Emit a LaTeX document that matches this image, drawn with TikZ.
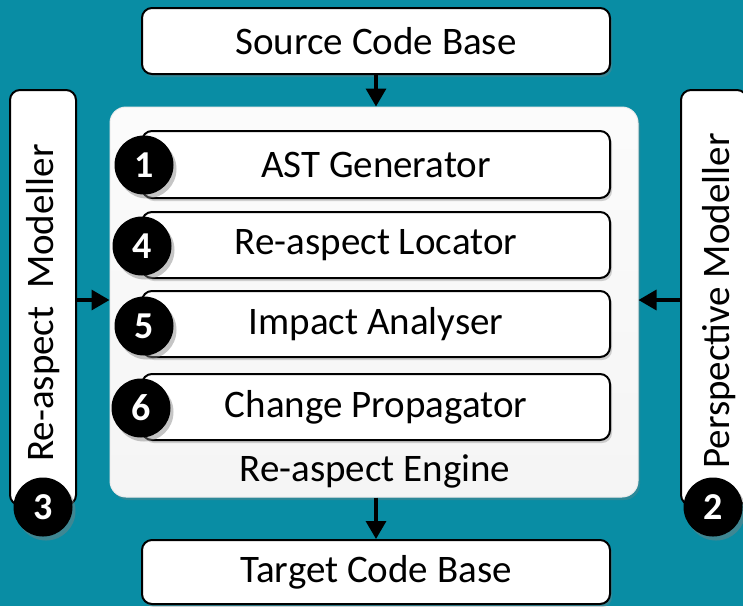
\documentclass[tikz,border=0pt]{standalone}
\usepackage{fontspec}
\setmainfont{Carlito}
\usetikzlibrary{arrows.meta,shadows}
\definecolor{teal}{RGB}{9,141,164}
\tikzset{
  box/.style={draw=black, line width=2pt, fill=white, rounded corners=10pt,
    minimum width=468pt, inner sep=0pt, font=\fontsize{39}{46}\selectfont,
    drop shadow={shadow xshift=2pt, shadow yshift=-3pt, opacity=0.35}},
  sidebox/.style={draw=black, line width=2pt, fill=white, rounded corners=10pt,
    minimum width=66pt, minimum height=415pt, inner sep=0pt},
  sidetext/.style={rotate=90, font=\fontsize{39}{46}\selectfont, inner sep=0pt},
  badge/.style={circle, fill=black, minimum size=59pt, inner sep=0pt,
    text=white, font=\fontsize{38}{42}\selectfont\bfseries,
    drop shadow={shadow xshift=3pt, shadow yshift=-4pt, opacity=0.45}},
  linkarrow/.style={draw=black, line width=3.4pt, arrows={-Triangle[width=20pt,length=18pt]}}
}
\begin{document}
\begin{tikzpicture}[x=1pt,y=-1pt]
  % canvas
  \fill[teal] (0,0) rectangle (743,606);
  \useasboundingbox (0,0) rectangle (743,606);

  % outer input / output boxes
  \node[box, minimum height=66pt] (src) at (376,41) {Source Code Base};
  \node[box, minimum height=64pt] (tgt) at (376,572) {Target Code Base};

  % engine panel
  \node[draw=white!85!gray, line width=1pt, top color=white!97!gray, bottom color=white!92!gray,
    rounded corners=16pt, minimum width=528pt, minimum height=390pt,
    drop shadow={shadow xshift=2pt, shadow yshift=-3pt, opacity=0.3}] (eng) at (374,302) {};
  \node[font=\fontsize{39}{46}\selectfont, inner sep=0pt] (englabel) at (375,471) {Re-aspect Engine};

  % engine components
  \node[box, minimum height=67pt] (ast) at (376,164.5) {AST Generator};
  \node[box, minimum height=66pt] (loc) at (376,245) {Re-aspect Locator};
  \node[box, minimum height=66pt] (imp) at (376,324) {Impact Analyser};
  \node[box, minimum height=66pt] (chg) at (376,407) {Change Propagator};

  \node[badge] (b1) at (144,165) {1};
  \node[badge] (b4) at (142,246) {4};
  \node[badge] (b5) at (144,326) {5};
  \node[badge] (b6) at (141,408) {6};

  % side modellers
  \node[sidebox] (left) at (43,297.5) {};
  \node[sidetext] (lefttext) at (43,303) {Re-aspect\ \ Modeller};
  \node[badge] (b3) at (43,507) {3};

  \node[sidebox] (right) at (714,297.5) {};
  \node[sidetext] (righttext) at (719,301) {Perspective Modeller};
  \node[badge] (b2) at (713,507) {2};

  % connectors
  \path[linkarrow] (src.south) -- (src.south |- eng.north);
  \path[linkarrow] (eng.south -| tgt.north) -- (tgt.north);
  \path[linkarrow] (left.east |- 0,300) -- (eng.west |- 0,300);
  \path[linkarrow] (right.west |- 0,300) -- (eng.east |- 0,300);
\end{tikzpicture}
\end{document}
